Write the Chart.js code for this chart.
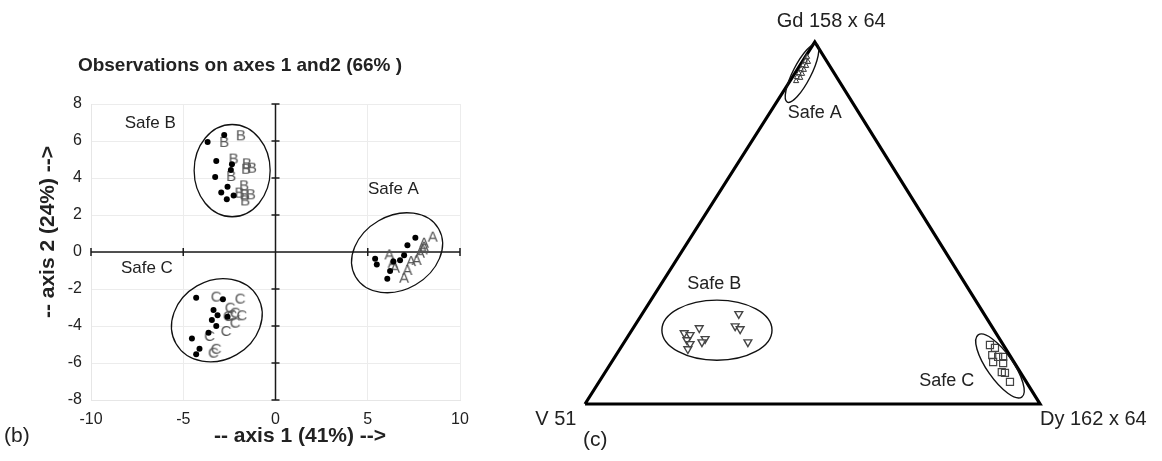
<!DOCTYPE html>
<html><head><meta charset="utf-8">
<script src="https://cdn.jsdelivr.net/npm/chart.js@4.4.0/dist/chart.umd.min.js"></script>
<style>
html,body{margin:0;padding:0;background:#fff;width:1162px;height:461px;overflow:hidden;position:relative}
canvas{position:absolute;top:0}
#left{left:0}
#right{left:500px}
</style></head><body>
<canvas id="left" width="480" height="461"></canvas>
<canvas id="right" width="662" height="461"></canvas>
<script>
// ---------- (b) PCA observations ----------
const xTickValues = [-10, -5, 0, 5, 10];
const yTickValues = [-8, -6, -4, -2, 0, 2, 4, 6, 8];
const obsA_dots = [[7.58,0.77],[7.15,0.36],[6.97,-0.18],[6.75,-0.45],[6.39,-0.52],[5.40,-0.36],[5.49,-0.67],[6.21,-1.03],[6.06,-1.44]];
const obsA_letters = [[8.52,0.83],[8.05,0.50],[8.05,0.29],[7.98,0.14],[7.83,-0.04],[7.65,-0.43],[7.35,-0.49],[7.15,-0.97],[6.97,-1.39],[6.17,-0.13],[6.35,-0.58],[6.48,-0.85]];
const obsB_dots = [[-3.68,5.95],[-2.78,6.32],[-3.21,4.92],[-2.36,4.74],[-2.42,4.43],[-3.27,4.05],[-2.60,3.53],[-2.94,3.21],[-2.64,2.85],[-2.27,3.06]];
const obsB_letters = [[-1.88,6.31],[-2.78,5.95],[-2.27,5.05],[-1.55,4.79],[-1.28,4.56],[-1.59,4.50],[-2.40,4.11],[-1.70,3.60],[-1.95,3.21],[-1.68,3.12],[-1.34,3.12],[-1.64,2.79]];
const obsC_dots = [[-4.30,-2.47],[-2.85,-2.56],[-3.36,-3.14],[-3.14,-3.42],[-3.45,-3.68],[-2.60,-3.50],[-3.21,-4.00],[-3.63,-4.36],[-4.53,-4.67],[-4.12,-5.23],[-4.30,-5.53]];
const obsC_letters = [[-3.21,-2.41],[-1.91,-2.52],[-2.45,-3.01],[-2.18,-3.28],[-2.36,-3.42],[-1.82,-3.42],[-2.55,-3.46],[-2.18,-3.82],[-2.67,-4.27],[-3.57,-4.54],[-3.21,-5.23],[-3.36,-5.44]];
// ellipse: [cx, cy, semi-axis a, semi-axis b, angle deg]
const pcaEllipseA = [6.59, -0.04, 2.6, 2.0, -30];
const pcaEllipseB = [-2.35, 4.40, 2.06, 2.50, 0];
const pcaEllipseC = [-3.18, -3.69, 2.55, 2.15, -30];
const pcaGroupNames = ['Safe A', 'Safe B', 'Safe C'];
const pcaGroupLabelPos = [[6.39, 3.39], [-6.79, 6.95], [-6.97, -0.90]];

// ---------- (c) ternary plot (plot coordinates) ----------
const triangleVertices = [[0,0],[1,0],[0.505,1],[0,0]];
const vertexNames = ['V 51', 'Dy 162 x 64', 'Gd 158 x 64'];
const vertexLabelPos = [[-0.064,-0.044],[1.0,-0.044],[0.541,1.058]];
const ternA = [[0.488,0.959],[0.484,0.948],[0.490,0.945],[0.479,0.936],[0.486,0.934],[0.475,0.925],[0.481,0.923],[0.470,0.914],[0.477,0.912],[0.466,0.903],[0.473,0.901],[0.464,0.892]];
const ternB = [[0.338,0.249],[0.330,0.215],[0.341,0.207],[0.358,0.171],[0.251,0.210],[0.218,0.196],[0.231,0.191],[0.224,0.177],[0.264,0.180],[0.257,0.171],[0.231,0.166],[0.226,0.152]];
const ternC = [[0.890,0.163],[0.901,0.155],[0.895,0.135],[0.908,0.130],[0.919,0.130],[0.897,0.116],[0.919,0.113],[0.916,0.088],[0.923,0.086],[0.934,0.061]];
const ternEllipseA = [0.477, 0.914, 0.0715, 0.0198, -63];
const ternEllipseB = [0.290, 0.204, 0.121, 0.066, 0];
const ternEllipseC = [0.912, 0.105, 0.0835, 0.0286, 55];
const ternGroupLabelPos = [[0.505, 0.804], [0.284, 0.331], [0.795, 0.064]];

const FONT = '"Liberation Sans", Arial, Helvetica, sans-serif';
const toXY = arr => arr.map(p => ({x: p[0], y: p[1]}));

function letterImage(ch) {
  const c = document.createElement('canvas');
  c.width = 14; c.height = 18;
  const g = c.getContext('2d');
  g.font = '15px ' + FONT;
  g.fillStyle = '#555';
  g.textAlign = 'center';
  g.textBaseline = 'middle';
  g.fillText(ch, 7, 9.5);
  return c;
}

const ellipsePlugin = {
  id: 'ellipses',
  afterDatasetsDraw(chart, args, opts) {
    const {ctx, scales: {x, y}} = chart;
    const k = Math.abs(x.getPixelForValue(1) - x.getPixelForValue(0));
    ctx.save();
    ctx.strokeStyle = opts.color || '#111';
    ctx.lineWidth = opts.width || 1.3;
    for (const e of opts.items) {
      ctx.beginPath();
      ctx.ellipse(x.getPixelForValue(e[0]), y.getPixelForValue(e[1]), e[2]*k, e[3]*k, e[4]*Math.PI/180, 0, Math.PI*2);
      ctx.stroke();
    }
    ctx.restore();
  }
};

const crossAxes = {
  id: 'crossAxes',
  beforeDatasetsDraw(chart) {
    const {ctx, scales: {x, y}} = chart;
    const x0 = x.getPixelForValue(0), y0 = y.getPixelForValue(0);
    ctx.save();
    ctx.strokeStyle = '#1a1a1a';
    ctx.lineWidth = 1.5;
    ctx.beginPath();
    ctx.moveTo(x.getPixelForValue(xTickValues[0]), y0);
    ctx.lineTo(x.getPixelForValue(xTickValues[xTickValues.length-1]), y0);
    ctx.moveTo(x0, y.getPixelForValue(yTickValues[0]));
    ctx.lineTo(x0, y.getPixelForValue(yTickValues[yTickValues.length-1]));
    for (const v of xTickValues) { if (v === 0) continue; const p = x.getPixelForValue(v); ctx.moveTo(p, y0-4); ctx.lineTo(p, y0+4); }
    for (const v of yTickValues) { if (v === 0) continue; const p = y.getPixelForValue(v); ctx.moveTo(x0-4, p); ctx.lineTo(x0+4, p); }
    ctx.stroke();
    ctx.restore();
  }
};

const labelPlugin = {
  id: 'groupLabels',
  afterDraw(chart, args, opts) {
    const {ctx, scales: {x, y}} = chart;
    ctx.save();
    ctx.fillStyle = '#222';
    ctx.textBaseline = 'middle';
    for (const it of opts.items) {
      ctx.font = it.font;
      ctx.textAlign = it.align || 'center';
      ctx.fillText(it.text, x.getPixelForValue(it.pos[0]), y.getPixelForValue(it.pos[1]));
    }
    for (const t of (opts.fixed || [])) {
      ctx.save();
      ctx.font = t.font;
      ctx.textAlign = t.align || 'center';
      ctx.translate(t.x, t.y);
      if (t.rot) ctx.rotate(t.rot * Math.PI / 180);
      ctx.fillText(t.text, 0, 0);
      ctx.restore();
    }
    ctx.restore();
  }
};

const dotStyle = {pointRadius: 3, pointBackgroundColor: '#000', pointBorderWidth: 0, showLine: false, clip: false};

new Chart(document.getElementById('left'), {
  type: 'scatter',
  data: {datasets: [
    Object.assign({data: toXY(obsA_dots)}, dotStyle),
    Object.assign({data: toXY(obsB_dots)}, dotStyle),
    Object.assign({data: toXY(obsC_dots)}, dotStyle),
    {data: toXY(obsA_letters), pointStyle: letterImage('A'), clip: false},
    {data: toXY(obsB_letters), pointStyle: letterImage('B'), clip: false},
    {data: toXY(obsC_letters), pointStyle: letterImage('C'), clip: false}
  ]},
  options: {
    responsive: false, animation: false, events: [],
    layout: {padding: {left: 0, top: 104, right: 20, bottom: 0}},
    plugins: {
      legend: {display: false}, tooltip: {enabled: false},
      ellipses: {items: [pcaEllipseA, pcaEllipseB, pcaEllipseC], color: '#111', width: 1.3},
      groupLabels: {
        items: pcaGroupNames.map((t, i) => ({text: t, pos: pcaGroupLabelPos[i], font: '17px ' + FONT})),
        fixed: [
          {text: 'Observations on axes 1 and2 (66% )', x: 240, y: 66, font: 'bold 19px ' + FONT},
          {text: '-- axis 1 (41%) -->', x: 300, y: 436, font: 'bold 21px ' + FONT},
          {text: '-- axis 2 (24%) -->', x: 48, y: 232, rot: -90, font: 'bold 21px ' + FONT},
          {text: '(b)', x: 4, y: 436, align: 'left', font: '21px ' + FONT}
        ]
      }
    },
    scales: {
      x: {type: 'linear', min: -10, max: 10,
          ticks: {stepSize: 5, font: {size: 16, family: FONT}, color: '#222', padding: 10},
          grid: {color: '#ececec', drawTicks: false}, border: {color: '#e6e6e6'},
          afterFit(s) { s.height = 61; }},
      y: {type: 'linear', min: -8, max: 8,
          ticks: {stepSize: 2, font: {size: 16, family: FONT}, color: '#222', padding: 9},
          grid: {color: '#ececec', drawTicks: false}, border: {color: '#e6e6e6'},
          afterFit(s) { s.width = 91; }}
    }
  },
  plugins: [crossAxes, ellipsePlugin, labelPlugin]
});

new Chart(document.getElementById('right'), {
  type: 'scatter',
  data: {datasets: [
    {data: toXY(ternA), pointStyle: 'triangle', pointRadius: 3, pointBorderColor: '#333', pointBackgroundColor: 'rgba(255,255,255,0.5)', pointBorderWidth: 1, clip: false},
    {data: toXY(ternB), pointStyle: 'triangle', rotation: 180, pointRadius: 4.5, pointBorderColor: '#444', pointBackgroundColor: 'rgba(255,255,255,0.6)', pointBorderWidth: 1.4, clip: false},
    {data: toXY(ternC), pointStyle: 'rect', pointRadius: 5, pointBorderColor: '#444', pointBackgroundColor: 'rgba(255,255,255,0)', pointBorderWidth: 1.2, clip: false},
    {data: toXY(triangleVertices), showLine: true, pointRadius: 0, borderColor: '#000', borderWidth: 3.2, borderJoinStyle: 'miter', fill: false, clip: false}
  ]},
  options: {
    responsive: false, animation: false, events: [],
    layout: {padding: {left: 85, right: 122, top: 42, bottom: 57}},
    plugins: {
      legend: {display: false}, tooltip: {enabled: false},
      ellipses: {items: [ternEllipseA, ternEllipseB, ternEllipseC], color: '#111', width: 1.4},
      groupLabels: {
        items: pcaGroupNames.map((t, i) => ({text: t, pos: ternGroupLabelPos[i], font: '18px ' + FONT}))
          .concat(vertexNames.map((t, i) => ({text: t, pos: vertexLabelPos[i], font: '20px ' + FONT, align: i === 1 ? 'left' : 'center'}))),
        fixed: [
          {text: '(c)', x: 83, y: 440, align: 'left', font: '21px ' + FONT}
        ]
      }
    },
    scales: {
      x: {type: 'linear', min: 0, max: 1, display: false},
      y: {type: 'linear', min: 0, max: 1, display: false}
    }
  },
  plugins: [ellipsePlugin, labelPlugin]
});
</script>
</body></html>
